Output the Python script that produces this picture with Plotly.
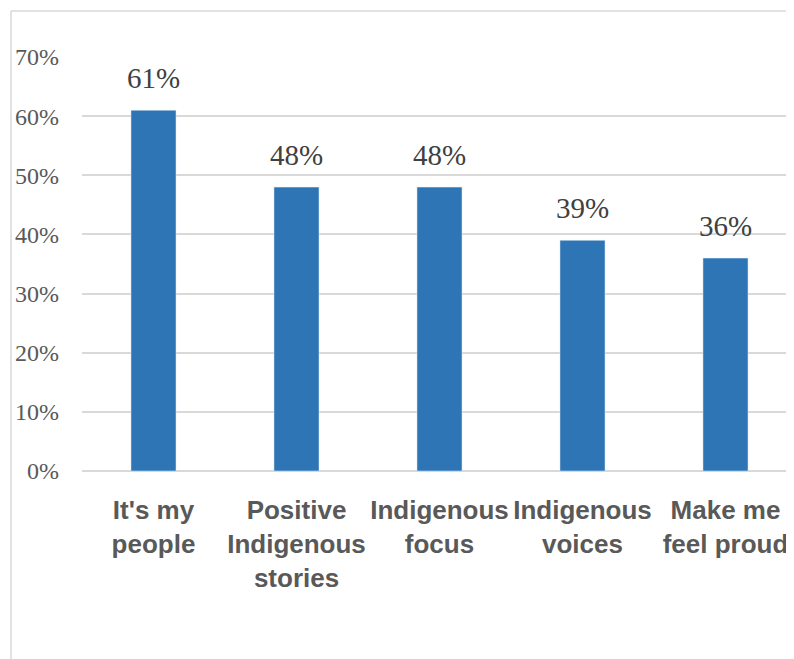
import plotly.graph_objects as go

categories = ["It's my<br>people", "Positive<br>Indigenous<br>stories", "Indigenous<br>focus",
              "Indigenous<br>voices", "Make me<br>feel proud"]
values = [0.61, 0.48, 0.48, 0.39, 0.36]
labels = ["61%", "48%", "48%", "39%", "36%"]
y_ticks = [0, 0.1, 0.2, 0.3, 0.4, 0.5, 0.6, 0.7]
y_tick_labels = ["0%", "10%", "20%", "30%", "40%", "50%", "60%", "70%"]

# page has an 8px body margin; figure drawn at (8, 8)
OFF = 8
W, H = 794 - OFF, 659 - OFF
L, R, T, B = 82 - OFF, 0, 57 - OFF, 188
pw, ph = W - L - R, H - T - B

fig = go.Figure()
fig.add_trace(go.Bar(x=categories, y=values, marker_color="#2e75b6", width=0.315,
                     hoverinfo="skip"))

for c, v, t in zip(categories, values, labels):
    fig.add_annotation(x=c, y=v, text=t, showarrow=False, yanchor="bottom", yshift=14,
                       font=dict(family="Liberation Serif", size=29, color="#404040"))

def px_x(x):
    return (x - OFF - L) / pw

def px_y(y):
    return (H + OFF - B - y) / ph

line_col = "#d9d9d9"
fig.add_shape(type="line", xref="paper", yref="paper", x0=px_x(11), x1=px_x(11),
              y0=px_y(11), y1=px_y(700), line=dict(color=line_col, width=1.5))
fig.add_shape(type="line", xref="paper", yref="paper", x0=px_x(11), x1=px_x(820),
              y0=px_y(11), y1=px_y(11), line=dict(color=line_col, width=1.5))

fig.update_layout(
    width=W, height=H,
    margin=dict(l=L, r=R, t=T, b=B, pad=0),
    paper_bgcolor="white", plot_bgcolor="white",
    showlegend=False,
)
fig.update_xaxes(range=[-0.5, 4.479], showgrid=False, showline=False, ticks="",
                 tickfont=dict(family="Liberation Sans", size=26, color="#595959", weight="bold"),
                 ticklabelstandoff=21, tickangle=0)
fig.update_yaxes(range=[0, 0.7], tickvals=y_ticks, ticktext=y_tick_labels,
                 showgrid=True, gridcolor=line_col, gridwidth=1.5,
                 zeroline=True, zerolinecolor=line_col, zerolinewidth=1.5,
                 showline=False, ticks="",
                 tickfont=dict(family="Liberation Serif", size=24, color="#595959"),
                 ticklabelstandoff=22)

fig.write_html("out.html")
